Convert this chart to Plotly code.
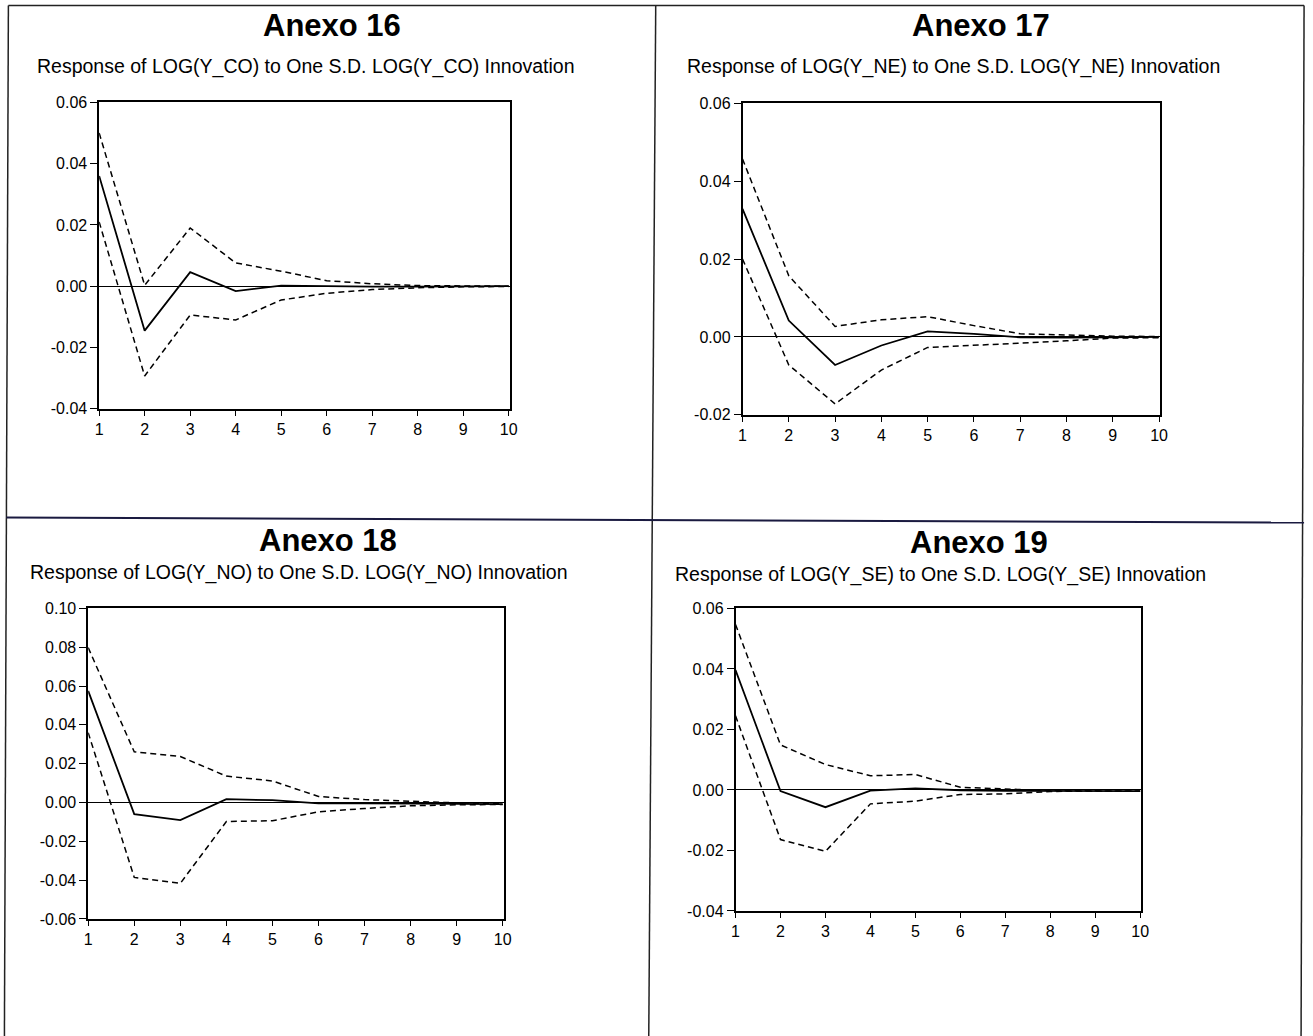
import plotly.graph_objects as go

periods = [1, 2, 3, 4, 5, 6, 7, 8, 9, 10]

# Anexo 16: LOG(Y_CO)
co_resp = [0.036, -0.0145, 0.0046, -0.0016, 0.0002, 0.0000, -0.0001, -0.0001, -0.0001, 0.0000]
co_upper = [0.050, 0.0003, 0.019, 0.0076, 0.0049, 0.0018, 0.0008, 0.0002, 0.0001, 0.0000]
co_lower = [0.021, -0.0293, -0.0094, -0.011, -0.0045, -0.0023, -0.0011, -0.0005, -0.0002, -0.0001]

# Anexo 17: LOG(Y_NE)
ne_resp = [0.0329, 0.0042, -0.0072, -0.0022, 0.0014, 0.0008, -0.0001, -0.0002, -0.0001, 0.0000]
ne_upper = [0.0457, 0.0157, 0.0027, 0.0044, 0.0052, 0.0029, 0.0008, 0.0005, 0.0002, 0.0001]
ne_lower = [0.020, -0.0072, -0.0172, -0.0085, -0.0027, -0.0022, -0.0016, -0.0010, -0.0003, -0.0002]

# Anexo 18: LOG(Y_NO)
no_resp = [0.0575, -0.006, -0.0091, 0.0017, 0.0012, -0.0005, -0.0005, -0.0005, -0.0006, -0.0008]
no_upper = [0.0798, 0.0261, 0.0237, 0.0136, 0.0111, 0.0031, 0.0015, 0.0005, -0.0002, -0.0005]
no_lower = [0.036, -0.0386, -0.0417, -0.0098, -0.0094, -0.0048, -0.0031, -0.0017, -0.0012, -0.0010]

# Anexo 19: LOG(Y_SE)
se_resp = [0.0396, -0.0004, -0.0057, -0.0002, 0.0005, -0.0001, -0.0003, -0.0003, -0.0003, -0.0004]
se_upper = [0.0547, 0.0149, 0.0084, 0.0047, 0.0051, 0.0009, 0.0003, -0.0002, -0.0003, -0.0004]
se_lower = [0.0245, -0.0164, -0.0203, -0.0046, -0.0037, -0.0015, -0.0013, -0.0005, -0.0004, -0.0004]

titles = ["Anexo 16", "Anexo 17", "Anexo 18", "Anexo 19"]
subtitles = [
    "Response of LOG(Y_CO) to One S.D. LOG(Y_CO) Innovation",
    "Response of LOG(Y_NE) to One S.D. LOG(Y_NE) Innovation",
    "Response of LOG(Y_NO) to One S.D. LOG(Y_NO) Innovation",
    "Response of LOG(Y_SE) to One S.D. LOG(Y_SE) Innovation",
]
y_ranges = [[-0.04, 0.06], [-0.02, 0.06], [-0.06, 0.10], [-0.04, 0.06]]
y_tickvals = [
    [-0.04, -0.02, 0.00, 0.02, 0.04, 0.06],
    [-0.02, 0.00, 0.02, 0.04, 0.06],
    [-0.06, -0.04, -0.02, 0.00, 0.02, 0.04, 0.06, 0.08, 0.10],
    [-0.04, -0.02, 0.00, 0.02, 0.04, 0.06],
]
y_ticktext = [
    ["-0.04", "-0.02", "0.00", "0.02", "0.04", "0.06"],
    ["-0.02", "0.00", "0.02", "0.04", "0.06"],
    ["-0.06", "-0.04", "-0.02", "0.00", "0.02", "0.04", "0.06", "0.08", "0.10"],
    ["-0.04", "-0.02", "0.00", "0.02", "0.04", "0.06"],
]
series = [
    (co_resp, co_upper, co_lower),
    (ne_resp, ne_upper, ne_lower),
    (no_resp, no_upper, no_lower),
    (se_resp, se_upper, se_lower),
]

W, H = 1313, 1036
# target positions on the photographed page: (left, right, top, bottom)
boxes = [(98, 510, 102, 409), (743, 1162, 103, 415), (87, 504, 609, 920), (736, 1143, 609, 912)]
title_pos = [(331, 25), (982, 25), (327, 541), (980, 543)]
sub_pos = [(305, 66), (955, 66), (298, 573), (941, 575)]

# compensation for the page-to-photo mapping observed in rendering
SX, OX = 0.9934, 2.6
SY, OY = 0.9853, 7.5

def px(x):
    return ((x - OX) / SX) / W

def py(y):
    return 1 - ((y - OY) / SY) / H

FONT = "Liberation Sans, Arial, sans-serif"
fig = go.Figure()
layout = dict(
    width=W, height=H,
    margin=dict(l=0, r=0, t=0, b=0),
    paper_bgcolor="white", plot_bgcolor="white",
    showlegend=False,
    font=dict(family=FONT, color="black"),
)

annotations = []
shapes = []
for i in range(4):
    l, r, t, b = boxes[i]
    xa = "xaxis" if i == 0 else f"xaxis{i+1}"
    ya = "yaxis" if i == 0 else f"yaxis{i+1}"
    xref = "x" if i == 0 else f"x{i+1}"
    yref = "y" if i == 0 else f"y{i+1}"
    resp, up, lo = series[i]
    fig.add_trace(go.Scatter(x=periods, y=up, mode="lines", xaxis=xref, yaxis=yref,
                             line=dict(color="black", width=1.5, dash="6px,4px")))
    fig.add_trace(go.Scatter(x=periods, y=lo, mode="lines", xaxis=xref, yaxis=yref,
                             line=dict(color="black", width=1.5, dash="6px,4px")))
    fig.add_trace(go.Scatter(x=periods, y=resp, mode="lines", xaxis=xref, yaxis=yref,
                             line=dict(color="black", width=1.8)))
    layout[xa] = dict(
        domain=[px(l), px(r)], anchor=yref, range=[1, 10.03],
        tickmode="array", tickvals=periods, ticktext=[str(p) for p in periods],
        ticks="outside", ticklen=5, tickcolor="black", tickwidth=1,
        showline=True, linecolor="black", linewidth=1.5, mirror=True,
        showgrid=False, zeroline=False,
        tickfont=dict(size=16, family=FONT),
    )
    layout[ya] = dict(
        domain=[py(b), py(t)], anchor=xref, range=y_ranges[i],
        tickmode="array", tickvals=y_tickvals[i], ticktext=y_ticktext[i],
        ticks="outside", ticklen=7, tickcolor="black", tickwidth=1,
        showline=True, linecolor="black", linewidth=1.5, mirror=True,
        showgrid=False, zeroline=True, zerolinecolor="black", zerolinewidth=1,
        tickfont=dict(size=16, family=FONT),
    )
    tx, ty = title_pos[i]
    annotations.append(dict(
        x=px(tx), y=py(ty), xref="paper", yref="paper", text=f"<b>{titles[i]}</b>",
        showarrow=False, xanchor="center", yanchor="middle",
        font=dict(size=31, family=FONT),
    ))
    sx, sy = sub_pos[i]
    annotations.append(dict(
        x=px(sx), y=py(sy), xref="paper", yref="paper", text=subtitles[i],
        showarrow=False, xanchor="center", yanchor="middle",
        font=dict(size=19.5, family=FONT),
    ))

# table borders
border = dict(type="line", xref="paper", yref="paper", line=dict(color="#222", width=1.5))
for (x0, y0, x1, y1) in [(7, 5, 1306, 5), (7, 5, 3, 1040), (1306, 5, 1303, 1040),
                         (656, 5, 649, 1040)]:
    shapes.append(dict(border, x0=px(x0), y0=py(y0), x1=px(x1), y1=py(y1)))
shapes.append(dict(type="line", xref="paper", yref="paper", x0=px(5), y0=py(518),
                   x1=px(1306), y1=py(523), line=dict(color="#1a1a40", width=2)))

layout["annotations"] = annotations
layout["shapes"] = shapes
fig.update_layout(**layout)
fig.write_html("out.html", config={"displayModeBar": False},
               post_script="document.body.style.margin='0';document.body.style.overflow='hidden';")
